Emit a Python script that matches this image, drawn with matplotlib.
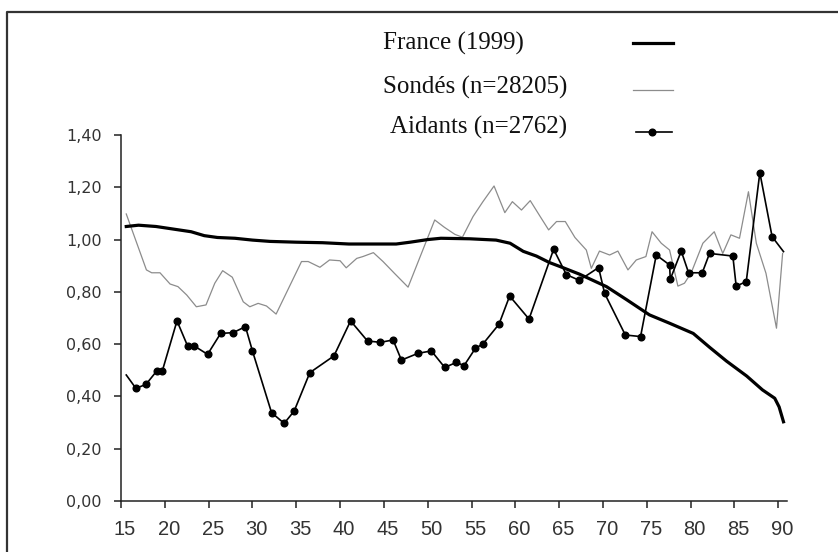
import matplotlib
matplotlib.use("Agg")
import matplotlib.pyplot as plt
import matplotlib.transforms as mtransforms
from matplotlib.lines import Line2D

# values (age, ratio)
france_age = [15.6, 17.0, 19.0, 21.0, 23.0, 24.5, 26.0, 28.0, 30.0, 32.0, 35.0,
              38.0, 41.0, 44.0, 46.4, 48.0, 50.0, 51.5, 54.8, 57.8, 59.4, 60.9,
              62.4, 63.9, 65.4, 67.3, 70.4, 72.7, 75.3, 77.6, 80.3, 82.2, 84.1,
              86.4, 88.2, 89.6, 90.1, 90.6]
france_val = [1.050, 1.055, 1.050, 1.040, 1.030, 1.015, 1.008, 1.005, 0.998, 0.993,
              0.990, 0.988, 0.983, 0.983, 0.983, 0.990, 1.000, 1.005, 1.003, 0.998,
              0.986, 0.955, 0.937, 0.912, 0.893, 0.868, 0.820, 0.770, 0.712, 0.680,
              0.641, 0.587, 0.535, 0.478, 0.425, 0.393, 0.360, 0.303]

sondes_age = [15.6, 17.9, 18.5, 19.45, 20.6, 21.5, 22.5, 23.6, 24.7, 25.7, 26.6,
              27.7, 28.95, 29.7, 30.65, 31.6, 32.7, 35.6, 36.36, 37.7, 38.8, 40.0,
              40.7, 41.9, 42.6, 43.8, 44.9, 46.2, 47.76, 50.8, 51.9, 53.1, 53.96,
              55.17, 56.3, 57.57, 58.8, 59.66, 60.7, 61.7, 62.8, 63.8, 64.7, 65.7,
              66.8, 68.1, 68.67, 69.6, 70.76, 71.7, 72.85, 73.8, 74.9, 75.6, 76.65,
              77.6, 78.55, 79.3, 80.07, 81.4, 82.7, 83.67, 84.6, 85.58, 86.6, 87.5,
              88.6, 89.8, 90.5]
sondes_val = [1.098, 0.884, 0.873, 0.873, 0.830, 0.820, 0.788, 0.743, 0.750, 0.833,
              0.881, 0.856, 0.762, 0.743, 0.756, 0.746, 0.715, 0.916, 0.916, 0.894,
              0.922, 0.919, 0.892, 0.928, 0.935, 0.950, 0.916, 0.871, 0.818, 1.075,
              1.047, 1.020, 1.009, 1.088, 1.145, 1.205, 1.103, 1.145, 1.113, 1.149,
              1.090, 1.037, 1.069, 1.069, 1.008, 0.960, 0.890, 0.956, 0.941, 0.956,
              0.884, 0.922, 0.935, 1.030, 0.986, 0.960, 0.822, 0.833, 0.873, 0.986,
              1.030, 0.947, 1.018, 1.005, 1.183, 0.986, 0.871, 0.661, 0.947]

aidants_age = [15.6, 16.7, 17.85, 19.07, 19.71, 21.39, 22.6, 23.36, 24.88, 26.37,
               27.8, 29.2, 30.0, 32.18, 33.62, 34.76, 36.55, 39.3, 41.2, 43.13,
               44.61, 46.05, 47.0, 48.9, 50.42, 51.94, 53.27, 54.15, 55.44, 56.31,
               58.13, 59.35, 61.56, 64.37, 65.82, 67.3, 69.5, 70.19, 72.55, 74.29,
               76.08, 77.6, 77.68, 78.93, 79.77, 81.33, 82.16, 84.82, 85.2, 86.35,
               87.9, 89.3, 90.6]
aidants_val = [0.482, 0.431, 0.446, 0.497, 0.497, 0.689, 0.593, 0.593, 0.561, 0.641,
               0.644, 0.667, 0.574, 0.338, 0.297, 0.344, 0.491, 0.555, 0.689, 0.612,
               0.607, 0.616, 0.539, 0.565, 0.574, 0.511, 0.530, 0.518, 0.584, 0.601,
               0.676, 0.784, 0.696, 0.963, 0.866, 0.844, 0.893, 0.794, 0.635, 0.629,
               0.941, 0.903, 0.848, 0.956, 0.873, 0.873, 0.947, 0.937, 0.822, 0.839,
               1.256, 1.011, 0.954]

x_ticks = list(range(15, 91, 5))
y_ticks = [0.0, 0.2, 0.4, 0.6, 0.8, 1.0, 1.2, 1.4]
y_labels = ["0,00", "0,20", "0,40", "0,60", "0,80", "1,00", "1,20", "1,40"]

legend_labels = ["France (1999)", "Sondés (n=28205)", "Aidants (n=2762)"]

W, H = 838, 552
fig = plt.figure(figsize=(W / 100, H / 100), dpi=100)
ax = fig.add_axes([121 / W, (H - 501) / H, (787 - 121) / W, (501 - 135) / H])

ax.plot(sondes_age, sondes_val, color="#8c8c8c", lw=0.9)
ax.plot(france_age, france_val, color="black", lw=2.3)
ax.plot(aidants_age, aidants_val, color="black", lw=1.2, marker="o", ms=4.8,
        markevery=slice(1, -1))

ax.set_xlim(15, 91)
ax.set_ylim(0, 1.4)
ax.spines["top"].set_visible(False)
ax.spines["right"].set_visible(False)
for s in ("left", "bottom"):
    ax.spines[s].set_linewidth(1.1)
    ax.spines[s].set_color("#222222")

ax.set_xticks(x_ticks)
ax.set_xticklabels([str(t) for t in x_ticks], family="Liberation Sans",
                   fontsize=14.5, color="#333333")
ax.set_yticks(y_ticks)
ax.set_yticklabels(y_labels, family="DejaVu Sans", fontsize=11.5, color="#333333")
ax.tick_params(axis="x", direction="out", length=5, width=1.1, pad=9, color="#222222")
ax.tick_params(axis="y", direction="out", length=5, width=1.1, pad=9, color="#222222")
shift = mtransforms.ScaledTranslation(4 / 100, 0, fig.dpi_scale_trans)
for lab in ax.get_xticklabels():
    lab.set_transform(lab.get_transform() + shift)

# hand-placed legend, as in the scan
def fx(px):
    return px / W

def fy(py):
    return 1 - py / H

text_x = [383, 383, 390]
text_y = [43, 87, 127]
line_y = [43, 90, 132]
for i, lab in enumerate(legend_labels):
    fig.text(fx(text_x[i]), fy(text_y[i]), lab, family="Liberation Serif",
             fontsize=18, va="center", ha="left", color="#111111")
fig.add_artist(Line2D([fx(633), fx(673)], [fy(line_y[0])] * 2, color="black", lw=2.3))
fig.add_artist(Line2D([fx(633), fx(673)], [fy(line_y[1])] * 2, color="#8c8c8c", lw=0.9))
fig.add_artist(Line2D([fx(636), fx(672)], [fy(line_y[2])] * 2, color="black", lw=1.2))
fig.add_artist(Line2D([fx(652)], [fy(line_y[2])], color="black", marker="o", ms=4.8))

# partial frame of the scanned page
fig.add_artist(Line2D([fx(7), fx(7), 1.0], [0.0, fy(12), fy(12)], color="#333333", lw=1.6))

fig.savefig("out.png", dpi=100)
